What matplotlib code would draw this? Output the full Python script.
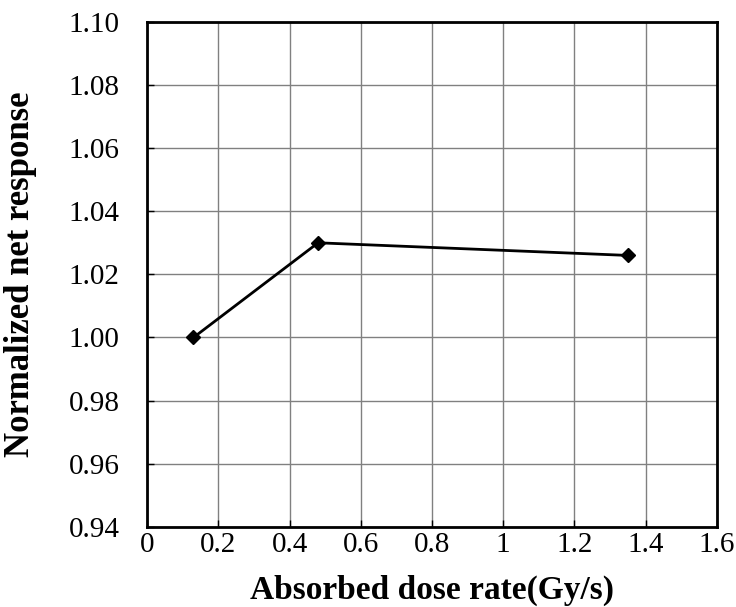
import numpy as np
import matplotlib.pyplot as plt

# dose rate vs normalized response
dose_rate = [0.13, 0.48, 1.35]
response = [1.000, 1.030, 1.026]
xticks = [0, 0.2, 0.4, 0.6, 0.8, 1.0, 1.2, 1.4, 1.6]
xticklabels = ['0', '0.2', '0.4', '0.6', '0.8', '1', '1.2', '1.4', '1.6']
yticks = [0.94, 0.96, 0.98, 1.00, 1.02, 1.04, 1.06, 1.08, 1.10]

plt.rcParams['font.family'] = ['Liberation Serif', 'DejaVu Serif']

fig = plt.figure(figsize=(7.36, 6.07), dpi=100)
ax = fig.add_axes([0.200, 0.132, 0.774, 0.832])

ax.plot(dose_rate, response, color='black', lw=2, marker='D', ms=7, zorder=3)

ax.set_xlim(0, 1.6)
ax.set_ylim(0.94, 1.10)
ax.set_xticks(xticks)
ax.set_xticklabels(xticklabels)
ax.set_yticks(yticks)
ax.set_yticklabels(['%.2f' % v for v in yticks])
ax.grid(True, color='#808080', lw=1)
ax.set_axisbelow(True)
for s in ax.spines.values():
    s.set_linewidth(2)
ax.tick_params(direction='in', length=5, width=1, labelsize=21)
ax.tick_params(axis='y', pad=20)
ax.tick_params(axis='x', pad=4)

ax.set_xlabel('Absorbed dose rate(Gy/s)', fontsize=24, fontweight='bold', va='center')
ax.set_ylabel('Normalized net response', fontsize=25, fontweight='bold', va='center')
ax.xaxis.set_label_coords(0.5, -0.125)
ax.yaxis.set_label_coords(-0.223, 0.5)

fig.savefig('out.png', dpi=100)
